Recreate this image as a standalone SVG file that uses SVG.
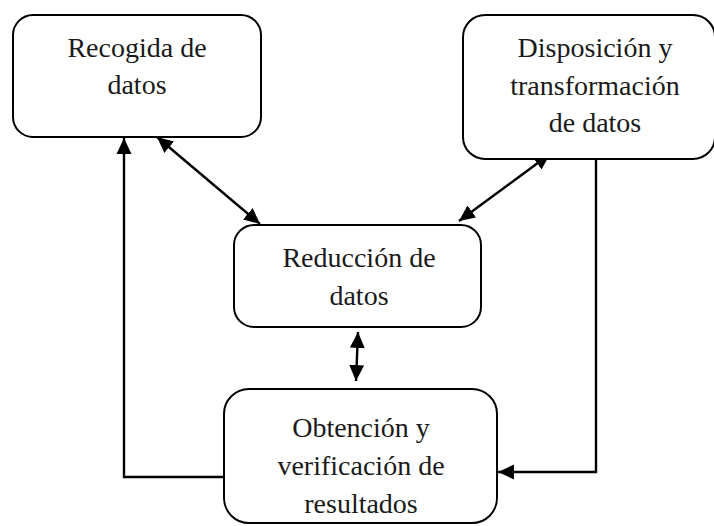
<svg xmlns="http://www.w3.org/2000/svg" width="714" height="526" viewBox="0 0 714 526">
<style>
.box{fill:#fff;stroke:#000;stroke-width:2}
.lbl{font-family:"Liberation Serif","Times New Roman",serif;font-size:28px;fill:#1a1a1a;text-anchor:middle}
.con{fill:none;stroke:#000;stroke-width:2.4}
</style>
<defs>
<marker id="ah" markerUnits="userSpaceOnUse" markerWidth="17" markerHeight="16" refX="15" refY="7" orient="auto-start-reverse" viewBox="0 0 16 14">
<path d="M0,0 L15,7 L0,14 z" fill="#000"/>
</marker>
</defs>
<rect width="714" height="526" fill="#fff"/>
<g id="connectors">
<path class="con" d="M224,477 H124 V138" marker-end="url(#ah)"/>
<path class="con" d="M157,137 L260,224" marker-start="url(#ah)" marker-end="url(#ah)"/>
<path class="con" d="M550,154 L459,221" marker-start="url(#ah)" marker-end="url(#ah)"/>
<path class="con" d="M358,332 L356,381" marker-start="url(#ah)" marker-end="url(#ah)"/>
<path class="con" d="M596,159 V472 H498" marker-end="url(#ah)"/>
</g>
<g id="recogida">
<rect class="box" x="13" y="15" width="248" height="122" rx="20"/>
<text class="lbl" x="137" y="57">Recogida de</text>
<text class="lbl" x="137" y="94">datos</text>
</g>
<g id="disposicion">
<rect class="box" x="463" y="15" width="252" height="144" rx="22"/>
<text class="lbl" x="595" y="57">Disposición y</text>
<text class="lbl" x="595" y="95">transformación</text>
<text class="lbl" x="595" y="132">de datos</text>
</g>
<g id="reduccion">
<rect class="box" x="234" y="225" width="247" height="102" rx="20"/>
<text class="lbl" x="359" y="267">Reducción de</text>
<text class="lbl" x="359" y="305">datos</text>
</g>
<g id="obtencion">
<rect class="box" x="224" y="389" width="273" height="134" rx="25"/>
<text class="lbl" x="361" y="437">Obtención y</text>
<text class="lbl" x="361" y="475">verificación de</text>
<text class="lbl" x="361" y="513">resultados</text>
</g>
</svg>
